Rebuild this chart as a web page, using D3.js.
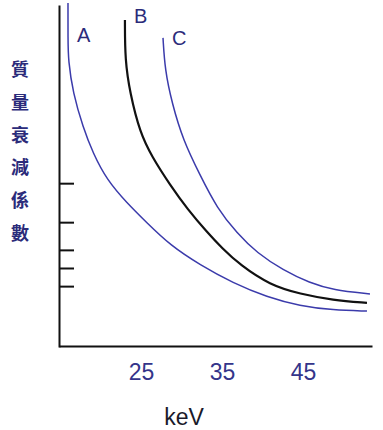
<!DOCTYPE html>
<html>
<head>
<meta charset="utf-8">
<script src="https://cdn.jsdelivr.net/npm/d3@7"></script>
<style>
  body { margin: 0; background: #fff; }
  svg { display: block; }
</style>
</head>
<body>
<div id="root"></div>
<script>
const width = 383;
const height = 430;

// keV on x, attenuation coefficient (arbitrary units) on y
const xTicks = [25, 35, 45];
const yTicks = [47.9, 36.5, 28.4, 23.1, 17.8];
const yLabel = ["質", "量", "衰", "減", "係", "數"];

const curveA = [
  [15.99, 100.6], [15.99, 89.8], [16.02, 83.9], [16.60, 74.3], [17.84, 64.3],
  [19.07, 56.7], [20.80, 48.8], [23.27, 42.1], [25.74, 36.3], [28.58, 29.8],
  [32.28, 24.0], [36.36, 18.7], [40.56, 14.6], [44.63, 12.0], [48.70, 10.8],
  [52.90, 10.5]
];
const curveB = [
  [23.02, 95.6], [23.03, 83.9], [23.64, 74.3], [24.88, 62.6], [26.36, 55.6],
  [28.58, 47.4], [30.80, 40.1], [33.15, 33.6], [35.00, 28.9], [37.22, 24.0],
  [40.93, 18.1], [44.63, 15.5], [48.70, 13.7], [52.90, 12.9]
];
const curveC = [
  [27.72, 90.4], [27.96, 81.0], [28.83, 71.3], [30.19, 60.5], [32.28, 50.3],
  [34.38, 40.6], [36.85, 33.3], [39.32, 27.5], [42.53, 22.5], [45.86, 18.7],
  [48.70, 16.7], [53.27, 15.5]
];

const series = [
  { name: "A", data: curveA, color: "#3b3bab", w: 1.5 },
  { name: "B", data: curveB, color: "#111", w: 2.2 },
  { name: "C", data: curveC, color: "#3b3bab", w: 1.5 }
];

const svg = d3.select("#root").append("svg")
  .attr("width", width)
  .attr("height", height);

const x = d3.scaleLinear().domain([14.88, 53.52]).range([59, 372]);
const y = d3.scaleLinear().domain([0, 100]).range([347, 5]);

// y axis, ticks pointing inward, no labels
svg.append("g")
  .attr("transform", "translate(59,0)")
  .call(d3.axisRight(y).tickValues(yTicks).tickSize(15).tickSizeOuter(0).tickFormat(""))
  .call(g => g.selectAll("path, line").attr("stroke", "#111").attr("stroke-width", 2));

// x axis
var xAxis = svg.append("g")
  .attr("transform", "translate(0,346)")
  .call(d3.axisBottom(x).tickValues(xTicks).tickSize(0).tickSizeOuter(0).tickPadding(18));
xAxis.select(".domain").attr("stroke", "#111").attr("stroke-width", 2);
xAxis.selectAll("text")
  .attr("font-family", "'Liberation Sans Narrow', 'Liberation Sans', Arial, sans-serif")
  .attr("font-size", 23)
  .attr("fill", "#34348a");

svg.append("text")
  .attr("x", 184)
  .attr("y", 425)
  .attr("text-anchor", "middle")
  .attr("font-family", "'Liberation Sans', Arial, sans-serif")
  .attr("font-size", 23)
  .attr("fill", "#1a1a2a")
  .text("keV");

// vertical chinese label
svg.append("g").selectAll("text")
  .data(yLabel)
  .enter().append("text")
  .attr("x", 20)
  .attr("y", (d, i) => 76 + i * 32.8)
  .attr("text-anchor", "middle")
  .attr("font-family", "'Noto Sans CJK TC', sans-serif")
  .attr("font-weight", "bold")
  .attr("font-size", 18)
  .attr("fill", "#2b2b7a")
  .text(d => d);

var line = d3.line()
  .x(d => x(d[0]))
  .y(d => y(d[1]))
  .curve(d3.curveBasis);

svg.append("g").selectAll("path")
  .data(series)
  .enter().append("path")
  .attr("d", d => line(d.data))
  .attr("fill", "none")
  .attr("stroke", d => d.color)
  .attr("stroke-width", d => d.w);

// curve labels next to the top of each curve
svg.append("g").selectAll("text")
  .data(series)
  .enter().append("text")
  .attr("x", d => x(d.data[0][0]) + 9)
  .attr("y", (d, i) => [42, 23, 45][i])
  .attr("font-family", "'Liberation Sans Narrow', 'Liberation Sans', Arial, sans-serif")
  .attr("font-size", 20)
  .attr("fill", "#2b2b7a")
  .text(d => d.name);
</script>
</body>
</html>
